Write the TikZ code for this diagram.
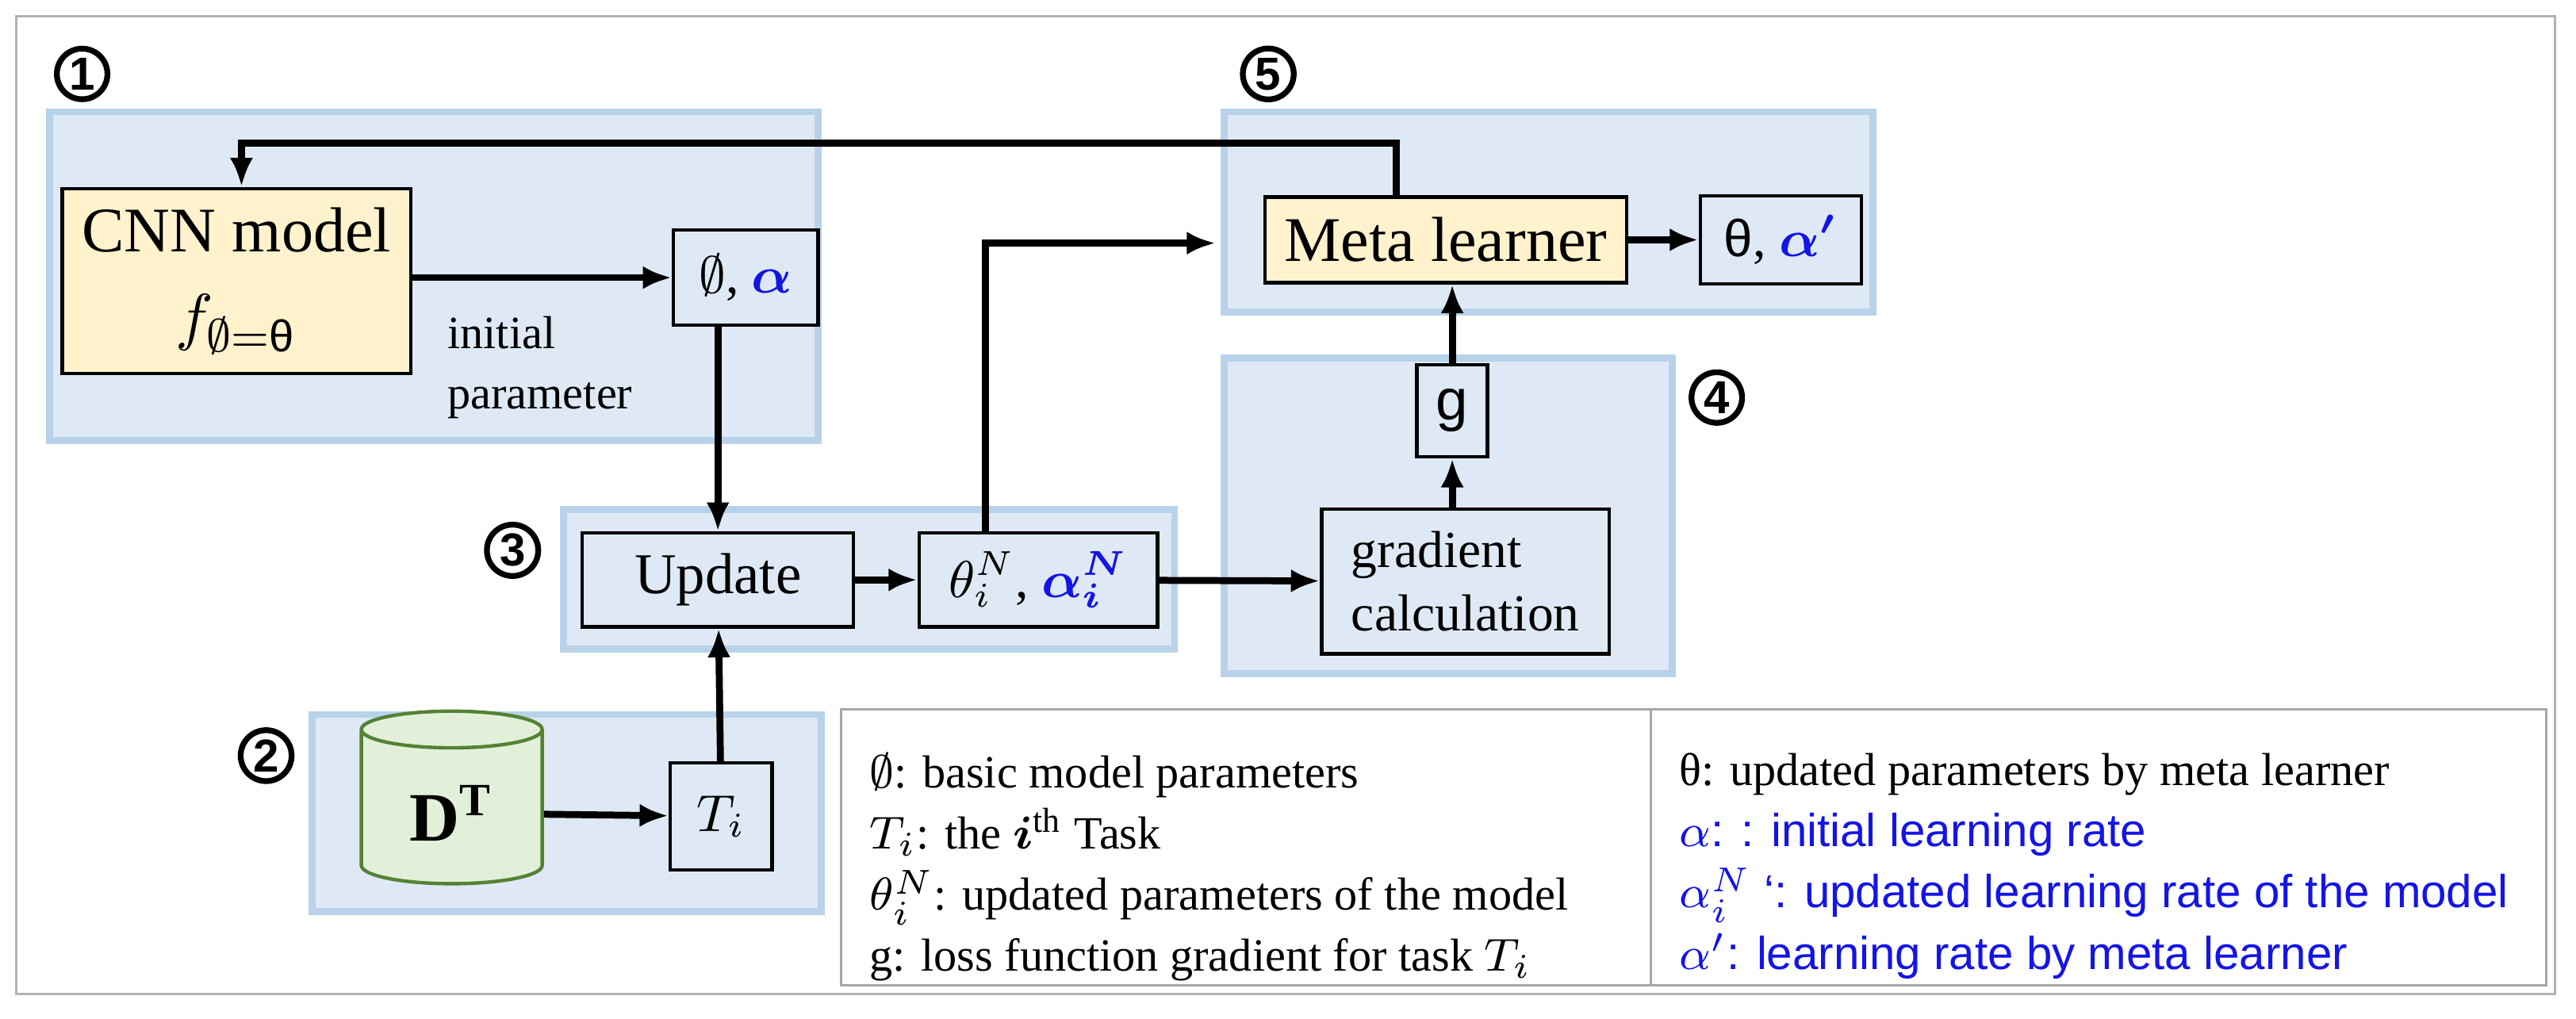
\documentclass[tikz,border=0pt]{standalone}
\usepackage{amsmath,amssymb,bm}
\usepackage{fontspec}
\setmainfont{Liberation Serif}
\setsansfont{Liberation Sans}
\usepackage{tikz}
\usetikzlibrary{positioning,shapes.geometric,arrows.meta}
\definecolor{regfill}{RGB}{222,233,245}
\definecolor{regline}{RGB}{184,210,234}
\definecolor{modfill}{RGB}{255,242,204}
\definecolor{cylfill}{RGB}{226,240,217}
\definecolor{cylline}{RGB}{84,130,53}
\definecolor{alblue}{RGB}{20,20,230}
\begin{document}
\begin{tikzpicture}[x=0.01cm,y=-0.01cm,
	region/.style={draw=regline,fill=regfill,line width=1.2pt},
	box/.style={draw,fill=regfill,line width=0.6pt},
	num/.style={circle,draw,line width=1pt,inner sep=0.6pt,font=\fontsize{8}{8}\selectfont\bfseries\sffamily},
	arr/.style={-{Latex[length=5pt,width=4pt]},line width=1.2pt},
	every node/.style={font=\fontsize{9}{11}\selectfont}]
	\useasboundingbox (0,0) rectangle (1568,620);
	\draw[gray!60] (10,10) rectangle (1555,605);
	%% regions
	\draw[region] (30,68) rectangle (498,268);
	\draw[region] (745,68) rectangle (1140,190);
	\draw[region] (745,218) rectangle (1018,410);
	\draw[region] (343,310) rectangle (715,395);
	\draw[region] (190,435) rectangle (500,555);
	\node[num] (n1) at (50,45) {1};
	\node[num] (n5) at (772,45) {5};
	\node[num] (n4) at (1045,242) {4};
	\node[num] (n3) at (312,335) {3};
	\node[num] (n2) at (162,460) {2};
	%% boxes
	\node[draw,fill=modfill,line width=0.6pt,minimum width=2.12cm,minimum height=1.07cm,align=center,font=\fontsize{11}{15}\selectfont] (cnn) at (144,171) {CNN model\\$f_{\emptyset=\text{\sffamily θ}}$};
	\node[box,minimum width=0.88cm,minimum height=0.58cm] (phi) at (454,169) {$\emptyset$, \textcolor{alblue}{$\bm{\alpha}$}};
	\node[align=left,anchor=north west,font=\fontsize{8}{10.5}\selectfont] (ip) at (260,180) {initial\\parameter};
	\node[draw,fill=modfill,line width=0.6pt,minimum width=2.2cm,minimum height=0.52cm,font=\fontsize{11}{13}\selectfont] (meta) at (880,146) {Meta learner};
	\node[box,minimum width=0.98cm,minimum height=0.52cm] (out) at (1084,146) {\textsf{θ}, \textcolor{alblue}{$\bm{\alpha'}$}};
	\node[box,minimum width=0.42cm,minimum height=0.56cm,font=\sffamily\fontsize{10}{12}\selectfont] (g) at (884,250) {g};
	\node[box,minimum width=1.75cm,minimum height=0.88cm,align=left] (grad) at (892,354) {gradient\\calculation};
	\node[box,minimum width=1.65cm,minimum height=0.57cm,font=\fontsize{10}{12}\selectfont] (upd) at (437,353) {Update};
	\node[box,minimum width=1.45cm,minimum height=0.57cm,inner sep=1pt] (thn) at (632,353) {$\theta_i^N$, \textcolor{alblue}{$\bm{\alpha_i^N}$}};
	\node[cylinder,shape border rotate=90,draw=cylline,fill=cylfill,line width=0.6pt,aspect=0.3,minimum width=1.1cm,minimum height=1.05cm,font=\fontsize{12}{14}\selectfont] (db) at (275,495) {$\mathbf{D^T}$};
	\node[box,minimum width=0.62cm,minimum height=0.65cm] (ti) at (439,497) {$T_i$};
	%% connectors
	\coordinate (c1) at (850,87);
	\coordinate (c2) at (147,87);
	\draw[arr] (meta.north -| c1) -- (c1) -- (c2) -- (cnn.north -| c2);
	\draw[arr] (cnn.east |- phi) -- (phi);
	\draw[arr] (phi.south -| upd) -- (upd);
	\draw[arr] (ti) -- (upd);
	\draw[arr] (db) -- (ti);
	\draw[arr] (upd) -- (thn);
	\coordinate (c3) at (600,148);
	\coordinate (c4) at (740,148);
	\draw[arr] (thn.north -| c3) -- (c3) -- (c4);
	\draw[arr] (thn) -- (grad);
	\draw[arr] (grad.north -| g) -- (g);
	\draw[arr] (g) -- (meta.south -| g);
	\draw[arr] (meta) -- (out);
	%% legend
	\draw[gray!70] (512,432) rectangle (1550,600) (1005,432) -- (1005,600);
	\node[anchor=north west,align=left,font=\fontsize{8}{10.6}\selectfont] (leg1) at (517,446) {$\emptyset$: basic model parameters\\$T_i$: the $\bm{i}^{\mathrm{th}}$ Task\\$\theta_i^N$: updated parameters of the model\\g: loss function gradient for task $T_i$};
	\node[anchor=north west,align=left,font=\fontsize{8}{10.6}\selectfont] (leg2) at (1010,446) {θ: updated parameters by meta learner\\\sffamily\color{alblue}$\alpha$: : initial learning rate\\\sffamily\color{alblue}$\alpha_i^N$ ‘: updated learning rate of the model\\\sffamily\color{alblue}$\alpha'$: learning rate by meta learner};
\end{tikzpicture}
\end{document}
